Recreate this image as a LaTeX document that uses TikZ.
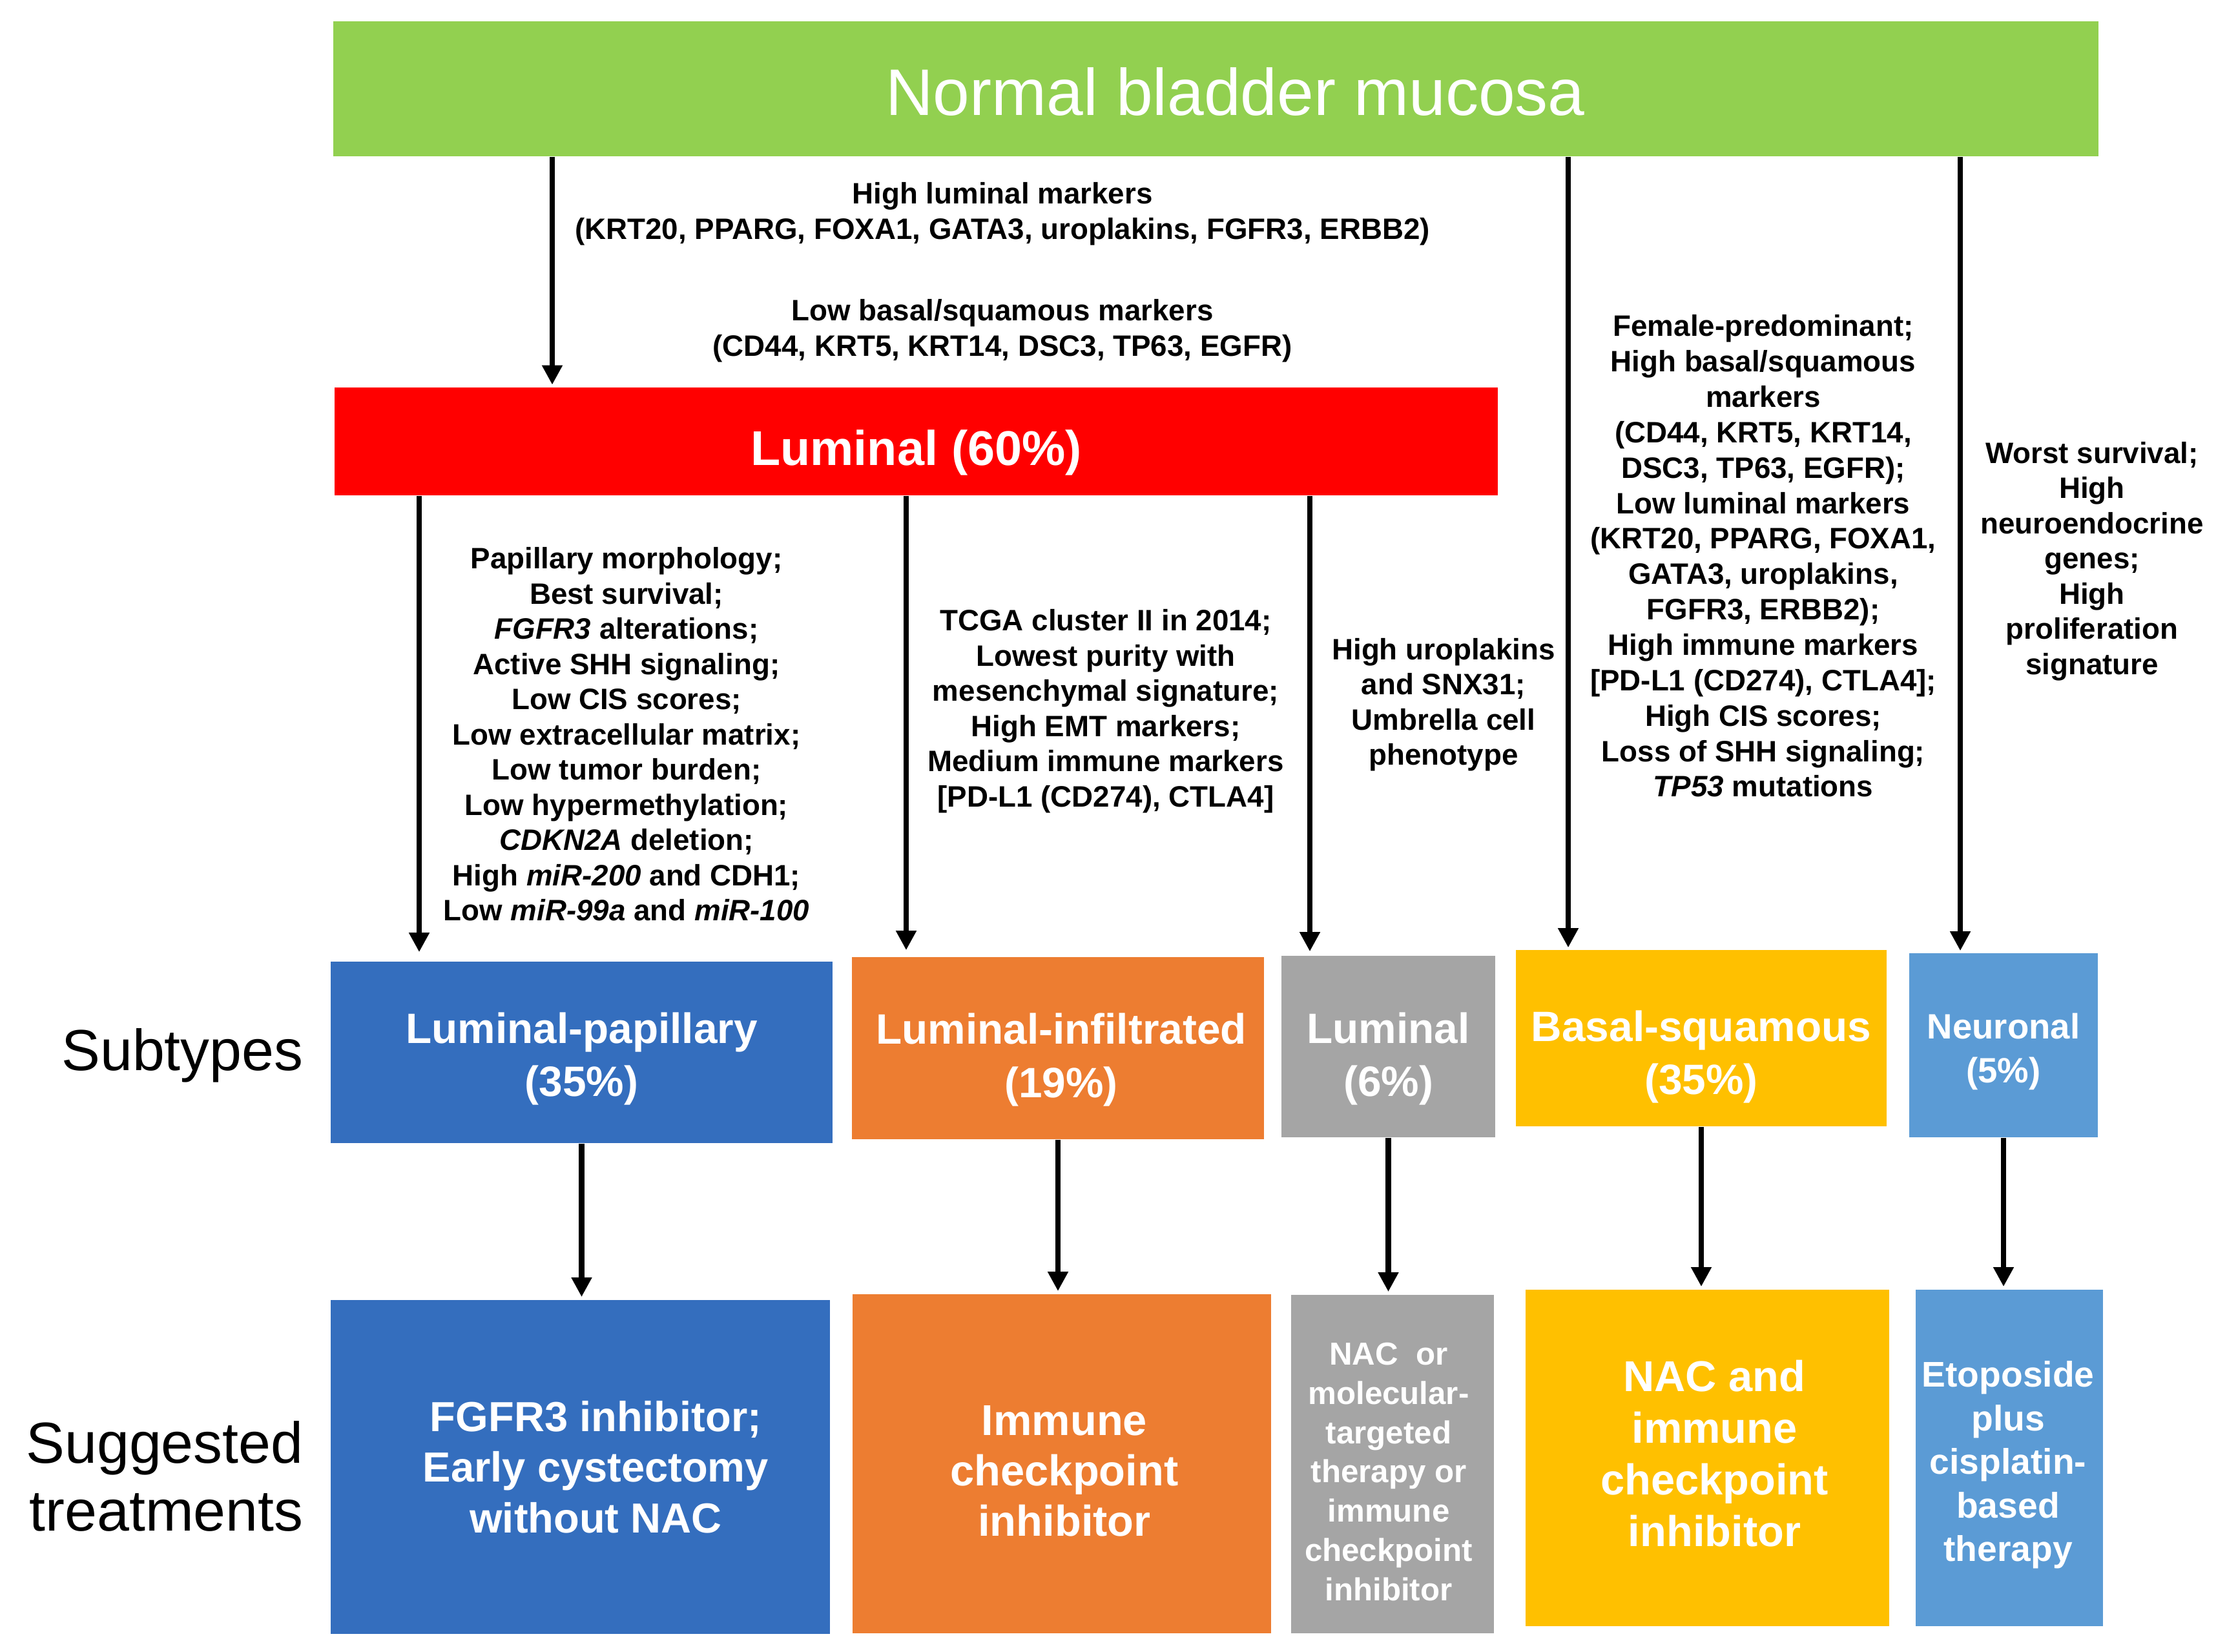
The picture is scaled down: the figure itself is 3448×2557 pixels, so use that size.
\documentclass[tikz,border=0pt]{standalone}
\usepackage{fontspec}
\setmainfont{Liberation Sans}
\usetikzlibrary{arrows.meta}
\definecolor{cgreen}{RGB}{146,208,80}
\definecolor{cred}{RGB}{255,0,0}
\definecolor{cblue}{RGB}{52,110,190}
\definecolor{corange}{RGB}{237,125,49}
\definecolor{cgray}{RGB}{165,165,165}
\definecolor{cgold}{RGB}{255,192,0}
\definecolor{clblue}{RGB}{91,155,213}
\begin{document}
\begin{tikzpicture}[x=0.01cm,y=-0.01cm,
 box/.style={inner sep=0pt},
 btext/.style={inner sep=0pt, text=white, align=center},
 subt/.style={btext, font=\bfseries\fontsize{18.7}{23.5}\selectfont},
 desc/.style={inner sep=0pt, align=center, font=\bfseries\fontsize{13}{15.5}\selectfont},
 side/.style={inner sep=0pt, align=right, anchor=east, font=\fontsize{25.5}{30}\selectfont},
 arr/.style={line width=2.4pt, -{Triangle[length=0.3cm,width=0.3cm]}},
 ]
\path[use as bounding box, fill=white] (0,0) rectangle (3448,2557);

% main boxes
\node[box, fill=cgreen, minimum width=27.31cm, minimum height=2.09cm] (green) at (1882.5,137.5) {};
\node[btext, font=\fontsize{29}{34}\selectfont] (greenT) at ([shift={(30,5)}]green.center) {Normal bladder mucosa};
\node[box, fill=cred, minimum width=17.99cm, minimum height=1.67cm] (red) at (1418.5,683.5) {};
\node[btext, font=\bfseries\fontsize{21.5}{26}\selectfont] (redT) at ([shift={(0,17)}]red.center) {Luminal (60\%)};

% subtypes
\node[box, fill=cblue, minimum width=7.77cm, minimum height=2.81cm] (lp) at (900.5,1629.5) {};
\node[subt] (lpT) at ([shift={(0,10)}]lp.center) {Luminal-papillary\\(35\%)};
\node[box, fill=corange, minimum width=6.38cm, minimum height=2.82cm] (li) at (1638,1623) {};
\node[subt] (liT) at ([shift={(5,18)}]li.center) {Luminal-infiltrated\\(19\%)};
\node[box, fill=cgray, minimum width=3.31cm, minimum height=2.81cm] (lu) at (2149.5,1620.5) {};
\node[subt] (luT) at ([shift={(0,19)}]lu.center) {Luminal\\(6\%)};
\node[box, fill=cgold, minimum width=5.74cm, minimum height=2.73cm] (bs) at (2634,1607.5) {};
\node[subt] (bsT) at ([shift={(0,29)}]bs.center) {Basal-squamous\\(35\%)};
\node[box, fill=clblue, minimum width=2.92cm, minimum height=2.85cm] (ne) at (3102,1618.5) {};
\node[btext, font=\bfseries\fontsize{15.5}{19.4}\selectfont] (neT) at ([shift={(0,10)}]ne.center) {Neuronal\\(5\%)};

% treatments
\node[box, fill=cblue, minimum width=7.73cm, minimum height=5.17cm] (t1) at (898.5,2271.5) {};
\node[btext, font=\bfseries\fontsize{18.5}{22.4}\selectfont] (t1T) at ([shift={(24,0)}]t1.center) {FGFR3 inhibitor;\\Early cystectomy\\without NAC};
\node[box, fill=corange, minimum width=6.48cm, minimum height=5.25cm] (t2) at (1644,2266.5) {};
\node[btext, font=\bfseries\fontsize{19}{22.2}\selectfont] (t2T) at ([shift={(4,11)}]t2.center) {Immune\\checkpoint\\inhibitor};
\node[box, fill=cgray, minimum width=3.14cm, minimum height=5.24cm] (t3) at (2156,2267) {};
\node[btext, font=\bfseries\fontsize{14}{17.3}\selectfont] (t3T) at ([shift={(-6,12)}]t3.center) {NAC\ \ or\\molecular-\\targeted\\therapy or\\immune\\checkpoint\\inhibitor};
\node[box, fill=cgold, minimum width=5.63cm, minimum height=5.21cm] (t4) at (2643.5,2257.5) {};
\node[btext, font=\bfseries\fontsize{19}{22.7}\selectfont] (t4T) at ([shift={(11,-7)}]t4.center) {NAC and\\immune\\checkpoint\\inhibitor};
\node[box, fill=clblue, minimum width=2.90cm, minimum height=5.21cm] (t5) at (3111,2257.5) {};
\node[btext, font=\bfseries\fontsize{15.7}{19.2}\selectfont] (t5T) at ([shift={(-2,11)}]t5.center) {Etoposide\\plus\\cisplatin-\\based\\therapy};

% side labels
\node[side] (sub) at (470,1634) {Subtypes};
\node[side] (sug) at (470,2286) {Suggested\\treatments};

% descriptions
\node[desc] (d0a) at (1552,331) {High luminal markers\\(KRT20, PPARG, FOXA1, GATA3, uroplakins, FGFR3, ERBB2)};
\node[desc] (d0b) at (1552,512) {Low basal/squamous markers\\(CD44, KRT5, KRT14, DSC3, TP63, EGFR)};
\node[desc] (dlp) at (970,1137) {Papillary morphology;\\Best survival;\\\textit{FGFR3} alterations;\\Active SHH signaling;\\Low CIS scores;\\Low extracellular matrix;\\Low tumor burden;\\Low hypermethylation;\\\textit{CDKN2A} deletion;\\High \textit{miR-200} and CDH1;\\Low \textit{miR-99a} and \textit{miR-100}};
\node[desc] (dli) at (1712,1101) {TCGA cluster II in 2014;\\Lowest purity with\\mesenchymal signature;\\High EMT markers;\\Medium immune markers\\{}[PD-L1 (CD274), CTLA4]};
\node[desc] (dlu) at (2235,1091) {High uroplakins\\and SNX31;\\Umbrella cell\\phenotype};
\node[desc, font=\bfseries\fontsize{13}{15.6}\selectfont] (dbs) at (2730,861) {Female-predominant;\\High basal/squamous\\markers\\(CD44, KRT5, KRT14,\\DSC3, TP63, EGFR);\\Low luminal markers\\(KRT20, PPARG, FOXA1,\\GATA3, uroplakins,\\FGFR3, ERBB2);\\High immune markers\\{}[PD-L1 (CD274), CTLA4];\\High CIS scores;\\Loss of SHH signaling;\\\textit{TP53} mutations};
\node[desc] (dne) at (3239,869) {Worst survival;\\High\\neuroendocrine\\genes;\\High\\proliferation\\signature};

% arrow columns
\coordinate (xa0) at (855,0);
\coordinate (xa1) at (649,0);
\coordinate (xa2) at (1403,0);
\coordinate (xa3) at (2028,0);
\coordinate (xa4) at (2428,0);
\coordinate (xa5) at (3035,0);

\draw[arr, shorten >=1pt] (green.south -| xa0) -- (red.north -| xa0);
\draw[arr, shorten >=0.14cm] (red.south -| xa1) -- (lp.north -| xa1);
\draw[arr, shorten >=0.1cm] (red.south -| xa2) -- (li.north -| xa2);
\draw[arr, shorten >=0.06cm] (red.south -| xa3) -- (lu.north -| xa3);
\draw[arr, shorten >=0.03cm] (green.south -| xa4) -- (bs.north -| xa4);
\draw[arr, shorten >=0.03cm] (green.south -| xa5) -- (ne.north -| xa5);

\draw[arr, shorten >=0.04cm] (lp.south) -- (lp.south |- t1.north);
\draw[arr, shorten >=0.04cm] (li.south) -- (li.south |- t2.north);
\draw[arr, shorten >=0.04cm] (lu.south) -- (lu.south |- t3.north);
\draw[arr, shorten >=0.04cm] (bs.south) -- (bs.south |- t4.north);
\draw[arr, shorten >=0.04cm] (ne.south) -- (ne.south |- t5.north);
\end{tikzpicture}
\end{document}
